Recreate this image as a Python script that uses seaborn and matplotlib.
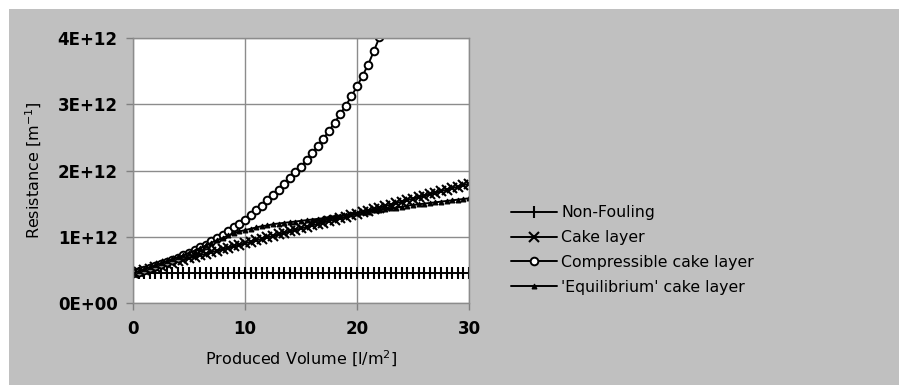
import numpy as np
import pandas as pd
import matplotlib
matplotlib.use("Agg")
import matplotlib.pyplot as plt
import seaborn as sns
from matplotlib.patches import Rectangle
from matplotlib.ticker import FixedLocator

sns.set_theme(style="white")
plt.rcParams["font.family"] = ["DejaVu Sans"]
plt.rcParams["text.color"] = "black"
plt.rcParams["axes.labelcolor"] = "black"

# Produced volume [l/m2], sampled every 0.5
volume = [i * 0.5 for i in range(61)]

# Resistance values in units of 1E+12 m^-1
non_fouling = [0.45] * 61

cake_layer = [
    0.450, 0.473, 0.495, 0.518, 0.540, 0.563, 0.585, 0.608, 0.630, 0.653,
    0.675, 0.698, 0.720, 0.743, 0.765, 0.788, 0.810, 0.833, 0.855, 0.878,
    0.900, 0.923, 0.945, 0.968, 0.990, 1.013, 1.035, 1.058, 1.080, 1.103,
    1.125, 1.148, 1.170, 1.193, 1.215, 1.238, 1.260, 1.283, 1.305, 1.328,
    1.350, 1.373, 1.395, 1.418, 1.440, 1.463, 1.485, 1.508, 1.530, 1.553,
    1.575, 1.598, 1.620, 1.643, 1.665, 1.688, 1.710, 1.733, 1.755, 1.778,
    1.800,
]

compressible_volume = [i * 0.5 for i in range(46)]
compressible = [
    0.45, 0.47, 0.50, 0.53, 0.56, 0.59, 0.62, 0.65, 0.68, 0.72,
    0.76, 0.80, 0.84, 0.88, 0.93, 0.98, 1.03, 1.08, 1.14, 1.20,
    1.26, 1.33, 1.40, 1.47, 1.55, 1.63, 1.71, 1.79, 1.88, 1.97,
    2.06, 2.16, 2.26, 2.37, 2.48, 2.60, 2.72, 2.85, 2.98, 3.12,
    3.27, 3.43, 3.60, 3.80, 4.01, 4.22,
]

equilibrium = [
    0.45, 0.48, 0.51, 0.54, 0.57, 0.60, 0.63, 0.66, 0.69, 0.72,
    0.76, 0.79, 0.83, 0.87, 0.91, 0.95, 0.98, 1.02, 1.05, 1.08,
    1.10, 1.12, 1.14, 1.16, 1.17, 1.19, 1.20, 1.21, 1.22, 1.23,
    1.24, 1.25, 1.26, 1.27, 1.28, 1.30, 1.31, 1.32, 1.33, 1.35,
    1.36, 1.37, 1.38, 1.40, 1.41, 1.42, 1.43, 1.44, 1.45, 1.47,
    1.48, 1.49, 1.50, 1.51, 1.52, 1.53, 1.54, 1.55, 1.56, 1.57,
    1.58,
]

x_ticks = [0, 10, 20, 30]
x_tick_labels = ["0", "10", "20", "30"]
y_ticks = [0, 1e12, 2e12, 3e12, 4e12]
y_tick_labels = ["0E+00", "1E+12", "2E+12", "3E+12", "4E+12"]

fig = plt.figure(figsize=(8.99, 3.85), dpi=100)
fig.patch.set_facecolor("white")
fig.patches.append(Rectangle((9 / 899, 0), 1 - 9 / 899, 1 - 9 / 385,
                             transform=fig.transFigure, facecolor="#c0c0c0",
                             edgecolor="none", zorder=-10))

ax = fig.add_axes([133 / 899, 82 / 385, 336 / 899, 265 / 385])
ax.set_facecolor("white")

series = [
    ("Non-Fouling", volume, non_fouling,
     dict(marker="|", markersize=8, markeredgewidth=1.5)),
    ("Cake layer", volume, cake_layer,
     dict(marker="x", markersize=6.5, markeredgewidth=1.5)),
    ("Compressible cake layer", compressible_volume, compressible,
     dict(marker="o", markersize=5.5, markerfacecolor="white",
          markeredgewidth=1.4)),
    ("'Equilibrium' cake layer", volume, equilibrium,
     dict(marker="^", markersize=3.5, markeredgewidth=0.8)),
]

for name, xs, ys, style in series:
    df = pd.DataFrame({"volume": xs, "resistance": np.array(ys) * 1e12})
    sns.lineplot(data=df, x="volume", y="resistance", ax=ax, color="black",
                 linewidth=1.4, label=name, markeredgecolor="black",
                 sort=False, **style)

ax.set_xlim(0, 30)
ax.set_ylim(0, 4e12)
ax.xaxis.set_major_locator(FixedLocator(x_ticks))
ax.yaxis.set_major_locator(FixedLocator(y_ticks))
ax.set_xticklabels(x_tick_labels, fontsize=12, fontweight="bold")
ax.set_yticklabels(y_tick_labels, fontsize=12, fontweight="bold")
ax.tick_params(axis="both", length=5, width=1, color="#808080",
               labelcolor="black", direction="out", bottom=True, left=True)
ax.tick_params(axis="x", pad=7)
ax.tick_params(axis="y", pad=6)
ax.grid(True, color="#8c8c8c", linewidth=1)
for sp in ax.spines.values():
    sp.set_color("#8c8c8c")
    sp.set_linewidth(1)

ax.set_xlabel("Produced Volume [l/m$^2$]", fontsize=11.5, labelpad=8)
ax.set_ylabel("Resistance [m$^{-1}$]", fontsize=11.5, labelpad=10)

leg = ax.legend(loc="center left", bbox_to_anchor=(511 / 899, 1 - 250 / 385),
                bbox_transform=fig.transFigure, frameon=False, fontsize=11.3,
                handlelength=2.9, handletextpad=0.3, labelspacing=0.62,
                borderaxespad=0, borderpad=0)

fig.savefig("out.png", dpi=100, facecolor=fig.get_facecolor())
